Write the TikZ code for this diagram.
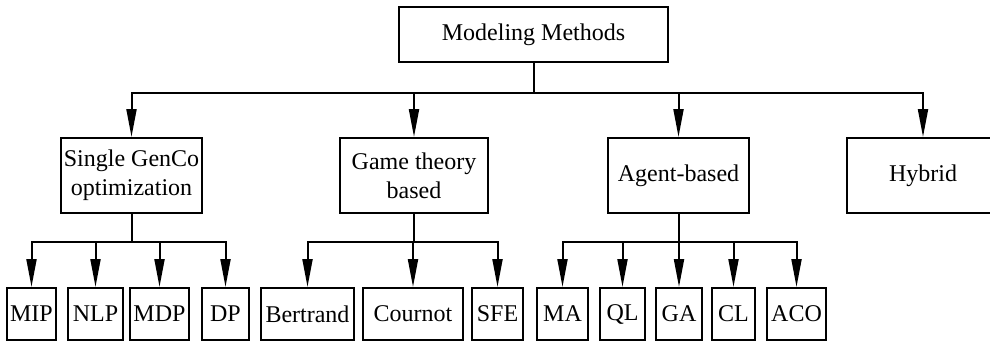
\documentclass[tikz,border=0pt]{standalone}
\usepackage{fontspec}
\setmainfont{Liberation Serif}
\usetikzlibrary{arrows.meta}
\begin{document}
\begin{tikzpicture}[x=1pt,y=-1pt,
  box/.style={draw, line width=2pt, inner sep=0pt, align=center,
              font=\fontsize{24}{29}\selectfont},
  arr/.style={line width=2pt, -{Triangle[length=28pt,width=10pt]}}]
\useasboundingbox (0,0) rectangle (990,341);

% root
\node[box, minimum width=269pt, minimum height=55pt] (root) at (533.5,34.5) {Modeling Methods};

% second level
\node[box, minimum width=141pt, minimum height=75pt] (sg) at (131.5,175.5) {Single GenCo\\optimization};
\node[box, minimum width=148pt, minimum height=75pt] (gt) at (414,175.5) {Game theory\\based};
\node[box, minimum width=141pt, minimum height=75pt] (ab) at (678.5,175.5) {Agent-based};
\node[box, minimum width=152pt, minimum height=75pt] (hy) at (923,175.5) {Hybrid};

% third level
\tikzset{leaf/.style={box, minimum height=52pt}}
\node[leaf, minimum width=49pt] (mip) at (31.5,314) {MIP};
\node[leaf, minimum width=55pt] (nlp) at (95.5,314) {NLP};
\node[leaf, minimum width=59pt] (mdp) at (159.5,314) {MDP};
\node[leaf, minimum width=47pt] (dp)  at (225.5,314) {DP};
\node[leaf, minimum width=93pt] (ber) at (307.5,314) {Bertrand};
\node[leaf, minimum width=100pt] (cou) at (413,314) {Cournot};
\node[leaf, minimum width=51pt] (sfe) at (497.5,314) {SFE};
\node[leaf, minimum width=51pt] (ma)  at (562.5,314) {MA};
\node[leaf, minimum width=45pt] (ql)  at (622.5,314) {QL};
\node[leaf, minimum width=46pt] (ga)  at (679,314) {GA};
\node[leaf, minimum width=43pt] (cl)  at (733.5,314) {CL};
\node[leaf, minimum width=59pt] (aco) at (796.5,314) {ACO};

% bus levels
\coordinate (bus1) at (0,93);
\coordinate (bus2) at (0,242);

\foreach \c in {sg,gt,ab,hy}
  \draw[arr] (root.south) -- (root.south |- bus1) -| (\c.north);
\foreach \c in {mip,nlp,mdp,dp}
  \draw[arr] (sg.south) -- (sg.south |- bus2) -| (\c.north);
\foreach \c in {ber,cou,sfe}
  \draw[arr] (gt.south) -- (gt.south |- bus2) -| (\c.north);
\foreach \c in {ma,ql,ga,cl,aco}
  \draw[arr] (ab.south) -- (ab.south |- bus2) -| (\c.north);
\end{tikzpicture}
\end{document}
